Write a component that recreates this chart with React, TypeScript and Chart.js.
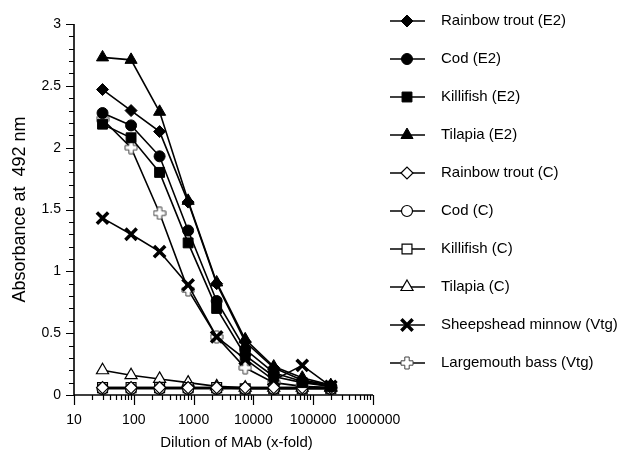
import React, { useEffect, useRef } from 'react';
import { Chart, registerables } from 'chart.js';
import { drawPoint } from 'chart.js/helpers';

Chart.register(...registerables);

// ---- data ----
const dilutions = [30, 90, 270, 810, 2430, 7290, 21870, 65610, 196830];

const rainbowTroutE2 = [2.47, 2.3, 2.13, 1.56, 0.9, 0.43, 0.22, 0.12, 0.08];
const codE2 = [2.28, 2.18, 1.93, 1.33, 0.76, 0.37, 0.18, 0.11, 0.07];
const killifishE2 = [2.19, 2.08, 1.8, 1.23, 0.7, 0.32, 0.15, 0.1, 0.07];
const tilapiaE2 = [2.73, 2.71, 2.29, 1.57, 0.91, 0.45, 0.23, 0.14, 0.08];
const rainbowTroutC = [0.06, 0.06, 0.06, 0.06, 0.06, 0.06, 0.06, 0.06, 0.06];
const codC = [0.05, 0.05, 0.05, 0.05, 0.05, 0.05, 0.05, 0.05, 0.05];
const killifishC = [0.06, 0.06, 0.06, 0.06, 0.06, 0.05, 0.05, 0.05, 0.05];
const tilapiaC = [0.2, 0.16, 0.13, 0.1, 0.07, 0.06, 0.06, 0.06, 0.06];
const sheepsheadVtg = [1.43, 1.3, 1.16, 0.89, 0.47, 0.29, 0.12, 0.24, 0.07];
const largemouthVtg = [2.23, 2.0, 1.47, 0.85, 0.47, 0.22, 0.1, 0.07, 0.06];

const seriesLabels = [
  'Rainbow trout (E2)',
  'Cod (E2)',
  'Killifish (E2)',
  'Tilapia (E2)',
  'Rainbow trout (C)',
  'Cod (C)',
  'Killifish (C)',
  'Tilapia (C)',
  'Sheepshead minnow (Vtg)',
  'Largemouth bass (Vtg)',
];
const seriesValues = [
  rainbowTroutE2, codE2, killifishE2, tilapiaE2,
  rainbowTroutC, codC, killifishC, tilapiaC,
  sheepsheadVtg, largemouthVtg,
];

const xTitle = 'Dilution of MAb (x-fold)';
const yTitle = 'Absorbance at  492 nm';

const FONT = '"Liberation Sans", Arial, sans-serif';

function makeHollowPlus(): HTMLCanvasElement {
  const c = document.createElement('canvas');
  c.width = 14; c.height = 14;
  const g = c.getContext('2d')!;
  const m = 7, a = 2.2, L = 6;
  g.beginPath();
  g.moveTo(m - a, m - L); g.lineTo(m + a, m - L); g.lineTo(m + a, m - a);
  g.lineTo(m + L, m - a); g.lineTo(m + L, m + a); g.lineTo(m + a, m + a);
  g.lineTo(m + a, m + L); g.lineTo(m - a, m + L); g.lineTo(m - a, m + a);
  g.lineTo(m - L, m + a); g.lineTo(m - L, m - a); g.lineTo(m - a, m - a);
  g.closePath();
  g.fillStyle = '#fff';
  g.fill();
  g.strokeStyle = '#444';
  g.lineWidth = 1;
  g.stroke();
  return c;
}

type Marker = { style: any; radius: number; filled: boolean; bw: number };

export default function App() {
  const ref = useRef<HTMLCanvasElement | null>(null);

  useEffect(() => {
    if (!ref.current) return;
    const plus = makeHollowPlus();
    const markers: Marker[] = [
      { style: 'rectRot', radius: 6, filled: true, bw: 1 },
      { style: 'circle', radius: 5.5, filled: true, bw: 1 },
      { style: 'rect', radius: 7, filled: true, bw: 1 },
      { style: 'triangle', radius: 7, filled: true, bw: 1 },
      { style: 'rectRot', radius: 6, filled: false, bw: 1.2 },
      { style: 'circle', radius: 5.5, filled: false, bw: 1.2 },
      { style: 'rect', radius: 7, filled: false, bw: 1.2 },
      { style: 'triangle', radius: 7, filled: false, bw: 1.2 },
      { style: 'crossRot', radius: 8, filled: true, bw: 3.5 },
      { style: plus, radius: 6, filled: false, bw: 1 },
    ];

    const datasets = seriesLabels.map((label, i) => ({
      label,
      data: dilutions.map((x, j) => ({ x, y: seriesValues[i][j] })),
      borderColor: '#000',
      borderWidth: 1.6,
      pointStyle: markers[i].style,
      pointRadius: markers[i].radius,
      pointBackgroundColor: markers[i].filled ? '#000' : '#fff',
      pointBorderColor: '#000',
      pointBorderWidth: markers[i].bw,
      tension: 0,
      fill: false,
    }));

    const axesPlugin = {
      id: 'axesPlugin',
      afterDraw(chart: any) {
        const ctx = chart.ctx;
        const { left, right, top, bottom } = chart.chartArea;
        const xs = chart.scales.x;
        const ys = chart.scales.y;
        ctx.save();
        ctx.strokeStyle = '#000';
        ctx.lineWidth = 1.6;
        ctx.beginPath();
        ctx.moveTo(left, top);
        ctx.lineTo(left, bottom);
        ctx.lineTo(right, bottom);
        ctx.stroke();
        ctx.lineWidth = 1.2;
        ctx.beginPath();
        for (let k = 0; k <= 30; k++) {
          const v = k / 10;
          const py = Math.round(ys.getPixelForValue(v)) + 0.5;
          const len = k % 5 === 0 ? 8 : 5;
          ctx.moveTo(left, py);
          ctx.lineTo(left - len, py);
        }
        for (let e = 1; e <= 6; e++) {
          for (let s = 1; s <= 9; s++) {
            if (e === 6 && s > 1) break;
            const v = s * Math.pow(10, e);
            const px = Math.round(xs.getPixelForValue(v)) + 0.5;
            const len = s === 1 ? 10 : 5;
            ctx.moveTo(px, bottom);
            ctx.lineTo(px, bottom + len);
          }
        }
        ctx.stroke();

        // axis titles
        ctx.fillStyle = '#000';
        ctx.textAlign = 'center';
        ctx.textBaseline = 'middle';
        ctx.font = `15px ${FONT}`;
        ctx.fillText(xTitle, (left + right) / 2 + 13, 443);
        ctx.save();
        ctx.translate(20, (top + bottom) / 2);
        ctx.rotate(-Math.PI / 2);
        ctx.font = `18px ${FONT}`;
        ctx.fillText(yTitle, 0, 0);
        ctx.restore();
        ctx.restore();

        // legend
        ctx.save();
        ctx.font = `15px ${FONT}`;
        ctx.textBaseline = 'middle';
        ctx.textAlign = 'left';
        seriesLabels.forEach((label, i) => {
          const y = 21 + i * 38;
          ctx.strokeStyle = '#000';
          ctx.lineWidth = 1.6;
          ctx.beginPath();
          ctx.moveTo(390, y);
          ctx.lineTo(425, y);
          ctx.stroke();
          const m = markers[i];
          ctx.fillStyle = m.filled ? '#000' : '#fff';
          ctx.strokeStyle = '#000';
          ctx.lineWidth = m.bw;
          drawPoint(ctx, { pointStyle: m.style, radius: m.radius, rotation: 0, borderWidth: m.bw }, 407, y);
          ctx.fillStyle = '#000';
          ctx.fillText(label, 441, y);
        });
        ctx.restore();
      },
    };

    const chart = new Chart(ref.current, {
      type: 'line',
      data: { datasets },
      options: {
        animation: false,
        responsive: false,
        parsing: false as any,
        layout: { padding: { left: 0, right: 248, top: 24, bottom: 0 } },
        plugins: { legend: { display: false }, tooltip: { enabled: false } },
        scales: {
          x: {
            type: 'logarithmic',
            min: 10,
            max: 1000000,
            grid: { display: false, drawTicks: false },
            border: { display: false },
            ticks: {
              autoSkip: false,
              maxRotation: 0,
              padding: 17,
              color: '#000',
              font: { family: FONT, size: 14 },
              callback: (v: any) => {
                const l = Math.log10(Number(v));
                return Math.abs(l - Math.round(l)) < 1e-9 ? String(Math.round(Number(v))) : '';
              },
            },
            title: { display: false },
            afterFit: (s: any) => { s.height = 60; },
          },
          y: {
            type: 'linear',
            min: 0,
            max: 3,
            grid: { display: false, drawTicks: false },
            border: { display: false },
            ticks: {
              stepSize: 0.5,
              padding: 13,
              color: '#000',
              font: { family: FONT, size: 14 },
              callback: (v: any) => String(Math.round(Number(v) * 10) / 10),
            },
            title: { display: false },
            afterFit: (s: any) => { s.width = 74; },
          },
        },
      },
      plugins: [axesPlugin],
    });
    return () => chart.destroy();
  }, []);

  return (
    <div style={{ position: 'absolute', left: 0, top: 0, width: 621, height: 455, background: '#fff' }}>
      <canvas ref={ref} width={621} height={455} />
    </div>
  );
}
